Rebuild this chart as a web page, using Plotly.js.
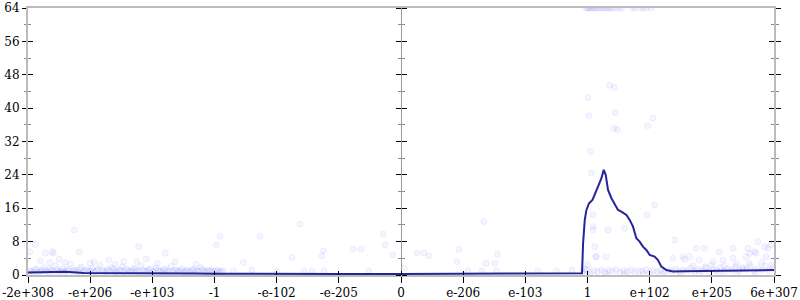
<!DOCTYPE html>
<html>
<head>
<meta charset="utf-8">
<script src="https://cdn.plot.ly/plotly-3.0.1.min.js"></script>
<style>html,body{margin:0;padding:0;background:#fff}#chart{width:800px;height:300px}</style>
</head>
<body>
<div id="chart"></div>
<script>
// Tick positions (ordinal float axis) and their labels
var tickPos = [-6, -5, -4, -3, -2, -1, 0, 1, 2, 3, 4, 5, 6];
var tickText = ["-2e+308", "-e+206", "-e+103", "-1", "-e-102", "-e-205", "0", "e-206", "e-103", "1", "e+102", "e+205", "6e+307"];
var yTicks = [0, 8, 16, 24, 32, 40, 48, 56, 64];

// Average error line
var lineX = [-6, -5.7, -5.4, -5.1, -4.8, -4.5, -4.2, -3.9, -3.6, -3.3, -3.0, -2.5, -2, -1, 0, 1, 2, 2.9,
  2.912, 2.929, 2.956, 2.983, 3.025, 3.08, 3.117, 3.169, 3.224, 3.261, 3.293, 3.33, 3.385, 3.438, 3.491,
  3.545, 3.626, 3.679, 3.732, 3.786, 3.839, 3.892, 3.947, 4.0, 4.08, 4.133, 4.188, 4.268, 4.374, 4.53, 5, 5.5, 6];
var lineY = [0.6, 0.65, 0.8, 0.5, 0.5, 0.45, 0.4, 0.45, 0.4, 0.35, 0.3, 0.25, 0.25, 0.25, 0.25, 0.25, 0.25, 0.3,
  0.4, 7.6, 13.2, 15.6, 17.2, 18, 19.2, 21.2, 23.2, 25.2, 24, 20.4, 18.4, 16.8, 15.6,
  15.2, 14.4, 13.2, 11.6, 8.8, 8, 6.8, 6, 4.8, 4.4, 3.6, 2, 1.2, 0.85, 0.9, 1.0, 1.1, 1.2];

// Sample points: left band
var leftX = [-5.98,-5.92,-5.86,-5.8,-5.74,-5.68,-5.62,-5.56,-5.5,-5.44,-5.38,-5.32,-5.26,-5.2,-5.14,-5.08,-5.02,-4.96,-4.9,-4.84,-4.78,-4.72,-4.66,-4.6,-4.54,-4.48,-4.42,-4.36,-4.3,-4.24,-4.18,-4.12,-4.06,-4.0,-3.94,-3.88,-3.82,-3.76,-3.7,-3.64,-3.58,-3.52,-3.46,-3.4,-3.34,-3.28,-3.22,-3.16,-3.1,-3.04,-2.98,-2.92,-2.86,
  -5.253,-5.173,-4.22,-3.79,-5.97,-5.88,-5.72,-5.61,-5.59,-3.63,-4.25,-4.94,-4.46,-3.92,-5.8,-5.5,-5.4,-5.0,-4.7,-4.6,-4.1,-3.3,-5.65];
var leftY = [1.0,0.6,1.4,0.9,1.8,0.7,1.2,2.2,0.8,1.5,1.0,2.6,1.2,0.7,1.9,1.1,0.8,1.6,1.0,2.4,0.9,1.3,1.8,0.7,1.1,2.0,1.4,0.8,1.6,1.0,2.3,0.9,1.3,0.7,1.7,1.0,1.4,0.8,2.1,1.1,0.9,1.5,1.0,0.7,1.3,1.0,1.8,0.8,1.2,0.9,1.1,0.7,1.0,
  10.8,5.6,6.8,5.2,5.6,7.4,5.2,5.6,5.2,3.2,3.2,3.2,3.2,2.8,3.4,3.8,3.0,2.8,3.6,2.6,3.8,2.6,3.0];
var leftBandX = [-5.95,-5.89,-5.83,-5.77,-5.71,-5.65,-5.59,-5.53,-5.47,-5.41,-5.35,-5.29,-5.23,-5.17,-5.11,-5.05,-4.99,-4.93,-4.87,-4.81,-4.75,-4.69,-4.63,-4.57,-4.51,-4.45,-4.39,-4.33,-4.27,-4.21,-4.15,-4.09,-4.03,-3.97,-3.91,-3.85,-3.79,-3.73,-3.67,-3.61,-3.55,-3.49,-3.43,-3.37,-3.31,-3.25,-3.19,-3.13,-3.07,-3.01,-2.95,-2.89];
var leftBandY = [0.9,1.2,0.7,1.1,1.0,1.4,0.8,1.2,1.0,0.7,1.3,0.9,1.1,1.4,0.8,1.2,1.0,0.7,1.3,1.1,0.8,1.0,1.4,0.9,1.2,0.7,1.1,1.0,1.3,0.8,1.2,1.0,1.4,0.9,1.1,0.7,1.2,1.0,0.8,1.3,1.0,0.7,1.1,1.2,0.8,1.0,1.3,0.9,1.0,0.8,1.1,0.9];
// Sample points: middle
var midX = [-1.62,-2.27,-2.91,-2.97,-1.756,-2.533,-1.248,-1.274,-0.766,-0.643,-0.284,-0.257,-0.133,0.05,0.262,0.37,0.45,0.93,1.33,0.9,1.37,1.55,1.51,-1.56,-1.43,-1.24,-0.52,1.08,1.3,1.54,-2.7,-2.4,-2.0,2.2,2.5,2.75];
var midY = [12.2,9.3,9.3,7.2,4.2,3.0,5.8,4.6,6.2,6.2,9.8,7.2,4.8,1.6,5.3,5.3,4.6,6.2,12.8,3.2,2.8,5.0,2.8,1.0,1.0,1.0,1.0,1.0,1.0,1.0,1.0,1.2,0.8,1.0,0.9,1.2];
// Sample points: peak region
var peakX = [3.357,3.427,3.009,3.02,3.449,4.053,3.968,3.42,3.48,3.047,3.063,3.09,3.117,3.14,3.33,3.6,3.957,4.08,4.4,4.53,3.3,3.09,3.09,3.13,2.95,3.0,
  2.98,3.0,3.02,3.05,3.08,3.1,3.13,3.16,3.2,3.23,3.26,3.3,3.33,3.36,3.4,3.44,3.5,3.55,3.72,3.76,3.85,3.9,3.95,4.02];
var peakY = [45.5,45.0,42.5,38.2,38.9,37.6,35.8,35.2,34.8,29.6,24.4,10.8,6.8,4.4,10.8,11.2,14.4,16.8,8.4,4.4,4.4,14.4,11.6,4.4,1.5,2.5,
  64,64,64,64,64,64,64,64,64,64,64,64,64,64,64,64,64,64,64,64,64,64,64,64];
// Sample points: right tail
var rightX = [4.88,4.75,5.34,5.58,5.74,5.61,5.69,5.85,5.9,5.12,4.37,4.56,4.64,4.8,5.02,5.18,5.34,5.55,5.71,5.87,5.95,5.0,5.2,5.4,5.6,5.8,4.7,4.9,5.5,5.96,
  2.92,2.98,3.04,3.1,3.16,3.22,3.28,3.34,3.4,3.46,3.52,3.58,3.64,3.7,3.76,3.82,3.88,3.94,4.0,4.06,4.12,4.18,4.24,4.3,4.36,4.42,4.48,4.54,4.6,4.66,4.72,4.78,4.84,4.9,4.96,5.02,5.08,5.14,5.2,5.26,5.32,5.38,5.44,5.5,5.56,5.62,5.68,5.74,5.8,5.86,5.92,5.98,
  3.0,3.3,3.6,3.9,4.2,4.5,4.8,5.1,5.4,5.7];
var rightY = [6.4,6.4,6.4,6.4,8.0,5.2,5.6,6.8,6.4,5.6,4.0,3.8,4.4,3.6,3.2,3.6,4.0,4.4,5.2,4.4,7.2,2.4,2.2,2.6,2.8,3.0,2.2,2.0,1.8,2.4,
  0.8,1.2,0.6,1.0,0.8,1.2,0.7,1.0,0.9,1.3,0.6,1.0,0.8,1.2,0.7,1.0,0.9,1.3,0.6,1.0,0.8,1.2,0.7,1.1,0.9,1.4,0.8,1.2,1.0,1.6,0.9,1.3,1.0,1.7,0.8,1.4,1.1,1.8,0.9,1.5,1.2,2.0,1.0,1.5,1.3,2.1,1.0,1.6,1.2,2.2,1.1,1.7,
  0.2,0.2,0.2,0.2,0.2,0.2,0.2,0.2,0.2,0.2];

var ptsX = leftX.concat(leftBandX, midX, peakX, rightX);
var ptsY = leftY.concat(leftBandY, midY, peakY, rightY);

var traces = [
  {x: ptsX, y: ptsY, type: 'scatter', mode: 'markers', hoverinfo: 'skip',
   marker: {size: 6, color: 'rgba(0,0,255,0.04)', line: {width: 1, color: 'rgba(0,0,255,0.06)'}}},
  {x: lineX, y: lineY, type: 'scatter', mode: 'lines', hoverinfo: 'skip',
   line: {color: '#25259a', width: 2}}
];
// empty traces so that every overlaid axis gets drawn
var axPairs = [['x2','y'],['x','y2'],['x','y3'],['x','y4'],['x','y5'],['x','y6']];
axPairs.forEach(function(p){
  traces.push({x: [null], y: [null], xaxis: p[0], yaxis: p[1], type: 'scatter', mode: 'markers', hoverinfo: 'skip', showlegend: false});
});

var fnt = {family: 'DejaVu Serif', size: 12, color: '#000'};
function yAx(extra) {
  var a = {range: [0, 64], tickmode: 'array', tickvals: yTicks, showgrid: false, zeroline: false, fixedrange: true,
    tickcolor: '#000', tickwidth: 1, ticklen: 5, showticklabels: false, showline: false};
  for (var k in extra) a[k] = extra[k];
  return a;
}
function mn(dir, len) {
  return {tickmode: 'linear', dtick: 4, tick0: 0, ticks: dir, ticklen: len, tickcolor: '#888', tickwidth: 1, showgrid: false};
}

var layout = {
  width: 800, height: 300,
  margin: {l: 28, r: 26, t: 8, b: 25},
  paper_bgcolor: '#fff', plot_bgcolor: '#fff',
  showlegend: false,
  xaxis: {range: [-6, 6], tickmode: 'array', tickvals: tickPos, ticktext: tickText, ticks: 'outside', ticklen: 6,
    tickcolor: '#000', tickwidth: 1, showgrid: false, zeroline: false, showline: true,
    linecolor: '#bbb', linewidth: 2, mirror: true, tickfont: fnt, fixedrange: true},
  xaxis2: {range: [-6, 6], overlaying: 'x', anchor: 'y', side: 'bottom', tickmode: 'array', tickvals: tickPos,
    ticks: 'inside', ticklen: 4, tickcolor: '#000', showticklabels: false, showgrid: false,
    zeroline: false, showline: false, fixedrange: true},
  yaxis: yAx({ticks: 'outside', ticklen: 4, showticklabels: true, tickfont: fnt, showline: true,
    linecolor: '#bbb', linewidth: 2, minor: mn('outside', 2)}),
  yaxis2: yAx({overlaying: 'y', anchor: 'x', side: 'left', ticks: 'inside', ticklen: 5, minor: mn('inside', 3)}),
  yaxis3: yAx({overlaying: 'y', anchor: 'x', side: 'right', ticks: 'outside', ticklen: 5, showline: true,
    linecolor: '#bbb', linewidth: 2, minor: mn('outside', 3)}),
  yaxis4: yAx({overlaying: 'y', anchor: 'x', side: 'right', ticks: 'inside', ticklen: 5, minor: mn('inside', 3)}),
  yaxis5: yAx({overlaying: 'y', anchor: 'free', position: 0.5, side: 'left', ticks: 'outside', ticklen: 5,
    showline: true, linecolor: '#999', linewidth: 1, minor: mn('outside', 3)}),
  yaxis6: yAx({overlaying: 'y', anchor: 'free', position: 0.5, side: 'right', ticks: 'outside', ticklen: 5,
    minor: mn('outside', 3)})
};

Plotly.newPlot('chart', traces, layout, {staticPlot: true, displayModeBar: false});
</script>
</body>
</html>
